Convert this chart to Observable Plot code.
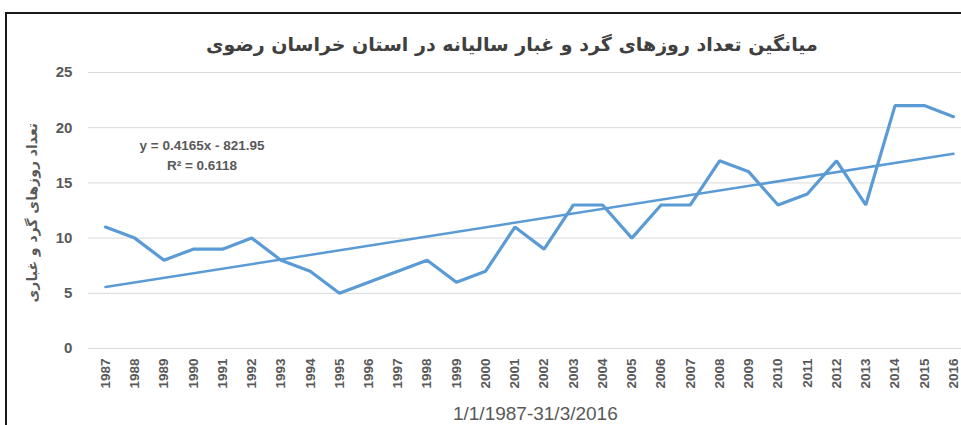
<!DOCTYPE html>
<html>
<head>
<meta charset="utf-8">
<script src="https://cdn.jsdelivr.net/npm/d3@7"></script>
<script src="https://cdn.jsdelivr.net/npm/@observablehq/plot@0.6"></script>
<style>
  html, body { margin: 0; padding: 0; background: #fff; }
  #wrap { position: relative; width: 961px; height: 425px; overflow: hidden; background: #fff; }
  #frame { position: absolute; left: 5px; top: 12px; width: 960px; height: 430px; border: 2px solid #1a1a1a; box-sizing: border-box; }
  #title { position: absolute; left: 0; top: 33px; width: 1024px; text-align: center; font-family: "DejaVu Sans", sans-serif; font-weight: bold; font-size: 19px; color: #404040; direction: rtl; }
  #chart { position: absolute; left: 0; top: 0; }
</style>
</head>
<body>
<div id="wrap">
  <div id="frame"></div>
  <div id="chart"></div>
  <div id="title">میانگین تعداد روزهای گرد و غبار سالیانه در استان خراسان رضوی</div>
</div>
<script>
const years = [1987,1988,1989,1990,1991,1992,1993,1994,1995,1996,1997,1998,1999,2000,2001,2002,2003,2004,2005,2006,2007,2008,2009,2010,2011,2012,2013,2014,2015,2016];
const dustDays = [11,10,8,9,9,10,8,7,5,6,7,8,6,7,11,9,13,13,10,13,13,17,16,13,14,17,13,22,22,21];
const yTicks = [0,5,10,15,20,25];
const equationLines = ["y = 0.4165x - 821.95", "R² = 0.6118"];
const xTitle = "1/1/1987-31/3/2016";
const yTitle = "تعداد روزهای گرد و غباری";

const data = years.map((y, i) => ({year: y, value: dustDays[i]}));
const blue = "#5b9bd5";
const gray = "#595959";

const chart = Plot.plot({
  width: 961,
  height: 425,
  marginTop: 72,
  marginBottom: 77,
  marginLeft: 88,
  marginRight: 0,
  insetLeft: 17,
  insetRight: 8,
  style: {fontFamily: "Liberation Sans, Arial, sans-serif", background: "transparent"},
  x: {type: "linear", domain: [years[0], years[years.length - 1]], axis: null},
  y: {domain: [0, 25], axis: null},
  marks: [
    Plot.ruleY(yTicks, {stroke: "#d9d9d9", strokeWidth: 1}),
    Plot.text(yTicks, {x: 1985.87, y: d => d, text: d => String(d), textAnchor: "end", fontSize: 15, fontWeight: "bold", fill: gray}),
    Plot.text(years, {x: d => d, y: 0, text: d => String(d), rotate: -90, textAnchor: "end", dy: 10, fontSize: 13.5, fontWeight: "bold", fill: gray}),
    Plot.linearRegressionY(data, {x: "year", y: "value", stroke: blue, strokeWidth: 2.5, ci: 0}),
    Plot.line(data, {x: "year", y: "value", stroke: blue, strokeWidth: 3.2, strokeLinejoin: "miter"}),
    Plot.text([equationLines[0]], {x: 1990.3, y: 18.35, text: d => d, fontSize: 13.5, fontWeight: "bold", fill: gray}),
    Plot.text([equationLines[1]], {x: 1990.3, y: 16.6, text: d => d, fontSize: 13.5, fontWeight: "bold", fill: gray}),
    Plot.text([xTitle], {x: 2001.7, y: -5.95, text: d => d, fontSize: 19, fill: gray}),
    Plot.text([yTitle], {x: 1984.5, y: 12.3, rotate: -90, text: d => d, fontSize: 14, fontWeight: "bold", fill: gray, fontFamily: "DejaVu Sans"})
  ]
});
document.getElementById("chart").appendChild(chart);
</script>
</body>
</html>
